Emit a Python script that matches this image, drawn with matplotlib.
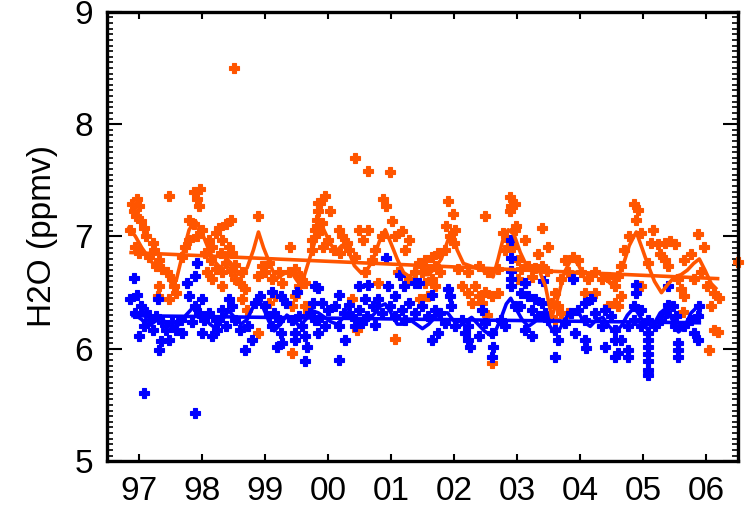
import numpy as np
import matplotlib.pyplot as plt
from matplotlib.ticker import MultipleLocator, FixedLocator

plt.rcParams['font.family'] = ['Liberation Sans', 'DejaVu Sans']

# observed H2O (decimal year, ppmv)
orange_obs = [
    (1996.90, 7.29), (1996.98, 7.33), (1997.00, 7.27), (1996.93, 7.23), (1996.96, 7.18),
    (1996.87, 7.06), (1997.03, 7.14), (1997.08, 7.08), (1997.11, 7.00), (1997.48, 7.36),
    (1997.88, 7.40), (1997.98, 7.42), (1997.93, 7.33), (1997.95, 7.27), (1997.80, 7.15),
    (1997.88, 7.11), (1998.01, 7.06), (1997.93, 7.00), (1997.22, 6.94), (1997.24, 6.88),
    (1997.16, 6.82), (1997.32, 6.79), (1997.27, 6.74), (1997.37, 6.71), (1997.45, 6.68),
    (1997.53, 6.62), (1997.56, 6.56), (1997.59, 6.50), (1997.48, 6.44), (1997.32, 6.56),
    (1997.30, 6.47), (1996.95, 6.91), (1997.00, 6.85), (1997.69, 6.82), (1997.74, 6.91),
    (1997.80, 6.97), (1998.11, 6.97), (1998.17, 6.91), (1998.22, 7.03), (1998.06, 6.85),
    (1998.14, 6.79), (1998.22, 6.71), (1998.09, 6.68), (1998.17, 6.62), (1998.52, 8.50),
    (1998.90, 7.18), (1998.46, 7.15), (1998.38, 7.11), (1998.27, 7.08), (1998.32, 6.97),
    (1998.43, 6.91), (1998.30, 6.85), (1998.48, 6.85), (1998.38, 6.76), (1998.53, 6.75),
    (1998.32, 6.68), (1998.46, 6.69), (1998.32, 6.56), (1998.53, 6.62), (1998.64, 6.68),
    (1998.61, 6.59), (1998.69, 6.53), (1998.64, 6.44), (1998.72, 6.35), (1999.40, 6.91),
    (1998.96, 6.74), (1999.06, 6.76), (1999.01, 6.68), (1998.90, 6.65), (1999.11, 6.62),
    (1999.22, 6.68), (1999.27, 6.59), (1999.38, 6.68), (1999.48, 6.71), (1999.56, 6.65),
    (1999.54, 6.56), (1999.64, 6.59), (1999.48, 6.47), (1999.06, 6.41), (1999.17, 6.47),
    (1999.43, 6.38), (1999.64, 6.38), (1999.69, 6.32), (1998.90, 6.14), (1999.43, 5.96),
    (1999.75, 6.97), (1999.80, 7.06), (1999.85, 7.30), (1999.83, 7.15), (1999.75, 6.88),
    (2000.43, 7.70), (2000.64, 7.58), (2000.99, 7.57), (1999.96, 7.36), (1999.88, 7.30),
    (2000.04, 7.23), (1999.85, 7.23), (1999.91, 7.12), (2000.88, 7.33), (2000.93, 7.27),
    (2001.01, 7.14), (1999.83, 7.09), (1999.85, 7.03), (2000.01, 6.97), (1999.93, 6.91),
    (2000.09, 6.88), (2000.17, 7.06), (2000.22, 7.00), (2000.30, 6.94), (2000.33, 6.88),
    (2000.20, 6.85), (2000.49, 7.06), (2000.64, 7.06), (2000.56, 6.97), (2000.43, 6.82),
    (2000.59, 6.68), (2000.70, 6.79), (2000.75, 6.88), (2000.86, 7.00), (2001.07, 7.00),
    (2001.17, 7.05), (2001.28, 6.97), (2001.22, 6.88), (2001.12, 6.68), (2001.28, 6.62),
    (2001.38, 6.68), (2000.80, 6.59), (2000.38, 6.44), (2001.07, 6.09), (2000.46, 6.17),
    (2001.91, 7.32), (2001.99, 7.20), (2002.49, 7.18), (2002.89, 7.35), (2002.91, 7.27),
    (2002.89, 7.23), (2001.88, 7.09), (2002.02, 7.06), (2001.94, 7.00), (2002.00, 6.94),
    (2001.86, 6.88), (2001.75, 6.85), (2001.65, 6.82), (2001.54, 6.79), (2001.44, 6.76),
    (2001.70, 6.74), (2001.59, 6.71), (2001.49, 6.68), (2001.78, 6.68), (2001.65, 6.62),
    (2001.54, 6.59), (2001.70, 6.56), (2001.46, 6.44), (2001.59, 6.47), (2002.07, 6.71),
    (2002.23, 6.68), (2002.39, 6.74), (2002.54, 6.68), (2002.70, 6.71), (2002.12, 6.56),
    (2002.23, 6.50), (2002.33, 6.56), (2002.39, 6.47), (2002.44, 6.41), (2002.49, 6.51),
    (2002.60, 6.47), (2002.70, 6.50), (2002.28, 6.41), (2002.52, 6.30), (2002.60, 5.87),
    (2002.78, 7.03), (2002.86, 6.97), (2002.97, 7.06), (2002.81, 6.88), (2002.94, 6.91),
    (2002.97, 7.29), (2002.99, 7.09), (2003.39, 7.08), (2003.12, 6.97), (2003.49, 6.91),
    (2003.33, 6.84), (2003.02, 6.79), (2003.07, 6.71), (2003.18, 6.74), (2003.28, 6.72),
    (2003.39, 6.74), (2003.47, 6.69), (2003.23, 6.64), (2003.12, 6.59), (2003.02, 6.62),
    (2003.76, 6.79), (2003.89, 6.82), (2003.97, 6.79), (2003.81, 6.68), (2003.70, 6.62),
    (2004.02, 6.68), (2004.13, 6.62), (2004.23, 6.68), (2004.34, 6.62), (2004.44, 6.64),
    (2004.55, 6.56), (2004.07, 6.50), (2004.23, 6.50), (2003.60, 6.50), (2003.55, 6.41),
    (2003.65, 6.38), (2003.70, 6.32), (2003.60, 6.26), (2003.81, 6.32), (2004.44, 6.38),
    (2004.55, 6.41), (2004.86, 7.29), (2004.92, 7.24), (2004.89, 7.15), (2004.78, 7.00),
    (2004.97, 7.03), (2005.15, 7.06), (2005.13, 6.94), (2005.23, 6.93), (2005.34, 6.94),
    (2005.42, 6.96), (2005.50, 6.93), (2005.87, 7.02), (2005.97, 6.91), (2005.76, 6.84),
    (2005.65, 6.79), (2005.26, 6.84), (2005.34, 6.79), (2005.39, 6.74), (2005.07, 6.76),
    (2004.70, 6.88), (2004.65, 6.74), (2004.60, 6.65), (2004.65, 6.47), (2004.60, 6.38),
    (2004.97, 6.56), (2005.55, 6.62), (2005.60, 6.53), (2005.65, 6.47), (2005.81, 6.62),
    (2005.92, 6.68), (2006.02, 6.56), (2006.13, 6.50), (2006.21, 6.45), (2006.08, 6.38),
    (2005.63, 6.33), (2006.13, 6.17), (2006.18, 6.15), (2006.05, 5.99), (2006.50, 6.77),
]

blue_obs = [
    (1996.92, 6.63), (1997.08, 5.61), (1997.90, 5.43), (1997.93, 6.76), (1997.90, 6.65),
    (1997.77, 6.59), (1997.80, 6.47), (1996.98, 6.48), (1996.87, 6.44), (1997.03, 6.38),
    (1996.95, 6.32), (1997.11, 6.33), (1997.16, 6.26), (1997.08, 6.20), (1997.22, 6.17),
    (1997.27, 6.29), (1997.37, 6.24), (1997.43, 6.17), (1997.53, 6.24), (1997.59, 6.17),
    (1997.67, 6.26), (1997.69, 6.14), (1997.48, 6.08), (1997.35, 6.07), (1997.32, 5.99),
    (1997.00, 6.11), (1997.30, 6.44), (1997.90, 6.38), (1998.00, 6.44), (1997.95, 6.32),
    (1998.03, 6.26), (1998.11, 6.32), (1998.22, 6.26), (1998.01, 6.14), (1998.17, 6.11),
    (1997.85, 6.24), (1999.11, 6.51), (1999.25, 6.47), (1999.51, 6.51), (1999.80, 6.56),
    (1999.77, 6.41), (1999.33, 6.41), (1998.43, 6.44), (1998.48, 6.38), (1998.32, 6.35),
    (1998.27, 6.26), (1998.38, 6.20), (1998.53, 6.26), (1998.61, 6.17), (1998.74, 6.20),
    (1998.85, 6.41), (1998.93, 6.47), (1999.01, 6.38), (1999.06, 6.29), (1999.14, 6.32),
    (1999.22, 6.26), (1999.11, 6.20), (1999.25, 6.14), (1999.27, 6.05), (1999.19, 6.02),
    (1999.54, 6.29), (1999.59, 6.20), (1999.48, 6.14), (1999.64, 6.11), (1999.67, 6.02),
    (1999.64, 5.89), (1999.48, 6.08), (1999.72, 6.32), (1999.80, 6.26), (1998.80, 6.08),
    (1998.69, 5.99), (1999.43, 6.26), (1998.24, 6.17), (2000.93, 6.81), (2001.14, 6.66),
    (2001.38, 6.59), (1999.85, 6.54), (2000.17, 6.48), (2000.49, 6.56), (2000.64, 6.57),
    (2000.96, 6.56), (2001.20, 6.56), (2001.07, 6.47), (1999.91, 6.41), (2000.01, 6.35),
    (2000.12, 6.38), (2000.25, 6.32), (2000.33, 6.39), (2000.38, 6.29), (2000.49, 6.35),
    (2000.59, 6.44), (2000.62, 6.29), (2000.72, 6.38), (2000.80, 6.44), (2000.86, 6.32),
    (2000.99, 6.38), (2001.07, 6.29), (2001.17, 6.35), (2001.28, 6.41), (2001.38, 6.32),
    (2001.22, 6.26), (1999.85, 6.26), (1999.96, 6.20), (2000.17, 6.20), (2000.43, 6.20),
    (2000.54, 6.23), (2000.75, 6.21), (2000.28, 6.08), (2000.17, 5.90), (1999.85, 6.14),
    (2002.91, 6.97), (2002.91, 6.81), (2002.91, 6.69), (2002.91, 6.62), (2002.91, 6.56),
    (2001.44, 6.59), (2001.65, 6.48), (2001.91, 6.53), (2001.94, 6.47), (2001.96, 6.38),
    (2001.49, 6.38), (2001.70, 6.35), (2001.59, 6.29), (2001.78, 6.32), (2001.86, 6.23),
    (2001.75, 6.14), (2001.65, 6.08), (2002.02, 6.20), (2002.12, 6.26), (2002.23, 6.20),
    (2002.23, 6.08), (2002.17, 6.14), (2002.25, 6.02), (2002.39, 6.11), (2002.44, 6.35),
    (2002.49, 6.23), (2002.60, 6.14), (2002.62, 6.02), (2002.60, 5.93), (2002.75, 6.26),
    (2002.81, 6.20), (2002.97, 6.38), (2003.89, 6.62), (2003.41, 6.60), (2003.12, 6.59),
    (2003.07, 6.50), (2003.18, 6.47), (2003.28, 6.44), (2003.39, 6.41), (2003.05, 6.38),
    (2003.23, 6.35), (2003.44, 6.32), (2003.33, 6.29), (2003.49, 6.26), (2003.12, 6.17),
    (2003.23, 6.11), (2003.60, 6.17), (2003.65, 6.08), (2003.60, 5.93), (2003.76, 6.23),
    (2003.86, 6.32), (2003.97, 6.35), (2004.07, 6.41), (2004.18, 6.44), (2004.07, 6.26),
    (2004.23, 6.32), (2004.39, 6.35), (2004.49, 6.29), (2004.34, 6.20), (2004.07, 6.08),
    (2004.10, 6.01), (2004.39, 6.02), (2004.55, 6.08), (2004.55, 5.93), (2003.92, 6.14),
    (2004.89, 6.57), (2004.89, 6.50), (2005.39, 6.56), (2005.39, 6.39), (2005.89, 6.38),
    (2005.87, 6.29), (2004.55, 6.17), (2004.65, 6.08), (2004.76, 5.99), (2004.76, 5.93),
    (2004.60, 5.96), (2004.86, 6.38), (2004.97, 6.35), (2004.86, 6.26), (2004.97, 6.20),
    (2005.07, 6.26), (2005.07, 6.14), (2005.07, 6.08), (2005.07, 6.02), (2005.07, 5.95),
    (2005.07, 5.89), (2005.07, 5.81), (2005.07, 5.77), (2005.18, 6.20), (2005.29, 6.26),
    (2005.36, 6.32), (2005.47, 6.38), (2005.52, 6.29), (2005.55, 6.05), (2005.55, 5.99),
    (2005.55, 5.93), (2005.50, 6.20), (2005.65, 6.20), (2005.76, 6.26), (2005.81, 6.14),
    (2005.87, 6.08), (2004.76, 6.20),
]

# regression fit (seasonal + trend), monthly-ish points
orange_fit = [
    (1996.85, 7.08), (1996.95, 7.00), (1997.05, 6.90), (1997.15, 6.82), (1997.25, 6.74),
    (1997.33, 6.78), (1997.42, 6.70), (1997.52, 6.58), (1997.60, 6.62), (1997.70, 6.85),
    (1997.80, 7.06), (1997.90, 7.14), (1998.00, 7.04), (1998.10, 6.90), (1998.20, 6.78),
    (1998.30, 6.72), (1998.40, 6.80), (1998.50, 6.74), (1998.60, 6.66), (1998.72, 6.72),
    (1998.82, 6.88), (1998.90, 7.04), (1998.98, 6.90), (1999.08, 6.76), (1999.18, 6.62),
    (1999.28, 6.66), (1999.40, 6.70), (1999.52, 6.60), (1999.62, 6.64), (1999.72, 6.82),
    (1999.82, 7.00), (1999.92, 7.08), (2000.02, 6.96), (2000.12, 6.86), (2000.22, 6.92),
    (2000.32, 6.88), (2000.42, 6.74), (2000.52, 6.68), (2000.62, 6.70), (2000.72, 6.80),
    (2000.82, 6.96), (2000.91, 7.06), (2001.00, 6.94), (2001.10, 6.80), (2001.20, 6.68),
    (2001.30, 6.64), (2001.40, 6.70), (2001.50, 6.66), (2001.60, 6.66), (2001.70, 6.72),
    (2001.80, 6.80), (2001.90, 6.96), (2001.97, 7.06), (2002.05, 6.88), (2002.15, 6.76),
    (2002.25, 6.74), (2002.35, 6.72), (2002.45, 6.70), (2002.55, 6.66), (2002.62, 6.64),
    (2002.70, 6.80), (2002.78, 6.98), (2002.86, 7.06), (2002.95, 7.02), (2003.05, 6.86),
    (2003.15, 6.74), (2003.25, 6.72), (2003.35, 6.70), (2003.45, 6.56), (2003.55, 6.28),
    (2003.65, 6.46), (2003.75, 6.68), (2003.88, 6.82), (2003.98, 6.74), (2004.08, 6.62),
    (2004.18, 6.64), (2004.28, 6.68), (2004.38, 6.64), (2004.48, 6.58), (2004.58, 6.62),
    (2004.68, 6.74), (2004.78, 6.92), (2004.89, 7.04), (2004.98, 6.90), (2005.08, 6.74),
    (2005.18, 6.60), (2005.29, 6.50), (2005.40, 6.58), (2005.50, 6.64), (2005.60, 6.66),
    (2005.70, 6.70), (2005.80, 6.76), (2005.89, 6.80), (2005.98, 6.70), (2006.08, 6.58),
    (2006.15, 6.54),
]
blue_fit = [
    (1996.95, 6.30), (1997.05, 6.26), (1997.15, 6.20), (1997.25, 6.24), (1997.35, 6.28),
    (1997.45, 6.22), (1997.55, 6.18), (1997.65, 6.22), (1997.75, 6.30), (1997.85, 6.36),
    (1997.93, 6.38), (1998.03, 6.28), (1998.13, 6.22), (1998.23, 6.18), (1998.33, 6.26),
    (1998.43, 6.34), (1998.52, 6.28), (1998.62, 6.22), (1998.72, 6.26), (1998.82, 6.38),
    (1998.90, 6.45), (1998.98, 6.36), (1999.07, 6.24), (1999.15, 6.16), (1999.25, 6.22),
    (1999.35, 6.30), (1999.45, 6.26), (1999.55, 6.20), (1999.65, 6.26), (1999.75, 6.34),
    (1999.85, 6.32), (1999.95, 6.28), (2000.05, 6.24), (2000.15, 6.22), (2000.25, 6.28),
    (2000.35, 6.32), (2000.45, 6.26), (2000.55, 6.22), (2000.65, 6.26), (2000.75, 6.32),
    (2000.83, 6.38), (2000.91, 6.40), (2001.00, 6.32), (2001.10, 6.22), (2001.20, 6.22),
    (2001.30, 6.26), (2001.40, 6.22), (2001.50, 6.18), (2001.60, 6.22), (2001.70, 6.28),
    (2001.80, 6.32), (2001.90, 6.32), (2001.98, 6.26), (2002.08, 6.20), (2002.18, 6.24),
    (2002.28, 6.28), (2002.38, 6.22), (2002.48, 6.16), (2002.58, 6.12), (2002.66, 6.16),
    (2002.75, 6.28), (2002.83, 6.40), (2002.90, 6.45), (2002.98, 6.36), (2003.08, 6.26),
    (2003.18, 6.20), (2003.28, 6.24), (2003.38, 6.30), (2003.48, 6.24), (2003.58, 6.15),
    (2003.68, 6.18), (2003.78, 6.28), (2003.88, 6.34), (2003.96, 6.34), (2004.06, 6.24),
    (2004.16, 6.20), (2004.26, 6.26), (2004.36, 6.28), (2004.46, 6.20), (2004.55, 6.15),
    (2004.65, 6.20), (2004.75, 6.30), (2004.86, 6.37), (2004.96, 6.28), (2005.07, 6.17),
    (2005.17, 6.22), (2005.27, 6.32), (2005.36, 6.36), (2005.46, 6.26), (2005.56, 6.15),
    (2005.66, 6.20), (2005.76, 6.32), (2005.87, 6.38), (2005.90, 6.32),
]

# linear trends
orange_trend = [(1996.88, 6.857), (2006.18, 6.625)]
blue_trend = [(1996.91, 6.295), (2005.89, 6.232)]

years = list(range(1997, 2007))
year_labels = ['97', '98', '99', '00', '01', '02', '03', '04', '05', '06']

ORANGE = '#ff5500'
BLUE = '#0000ff'

fig = plt.figure(figsize=(7.49, 5.13), dpi=100)
ax = fig.add_axes([0.143, 0.101, 0.842, 0.876])

# points first, fitted curves on top
for obs, c in [(orange_obs, ORANGE), (blue_obs, BLUE)]:
    t, v = np.array(obs).T
    ax.plot(t, v, 'P', color=c, ms=7.5, mec=c, mew=0.8, ls='none', clip_on=False)

for fit, trend, c in [(orange_fit, orange_trend, ORANGE), (blue_fit, blue_trend, BLUE)]:
    ft, fv = np.array(fit).T
    ax.plot(ft, fv, '-', color=c, lw=2.6, solid_joinstyle='round')
    tt, tv = np.array(trend).T
    ax.plot(tt, tv, '-', color=c, lw=2.6)

ax.set_xlim(1996.5, 2006.5)
ax.set_ylim(5, 9)
ax.xaxis.set_major_locator(FixedLocator(years))
ax.set_xticklabels(year_labels)
ax.yaxis.set_major_locator(MultipleLocator(1))
ax.yaxis.set_minor_locator(MultipleLocator(0.05))

ax.tick_params(which='both', direction='in', top=True, right=True, labelsize=24)
ax.tick_params(axis='x', which='major', length=5, width=1.5, pad=11)
ax.tick_params(axis='y', which='major', length=11, width=1.5, pad=10)
ax.tick_params(axis='y', which='minor', length=4, width=1.2)
for s in ax.spines.values():
    s.set_linewidth(2.4)

ax.set_ylabel('H2O (ppmv)', fontsize=24, labelpad=12)

fig.savefig('out.png', dpi=100)
